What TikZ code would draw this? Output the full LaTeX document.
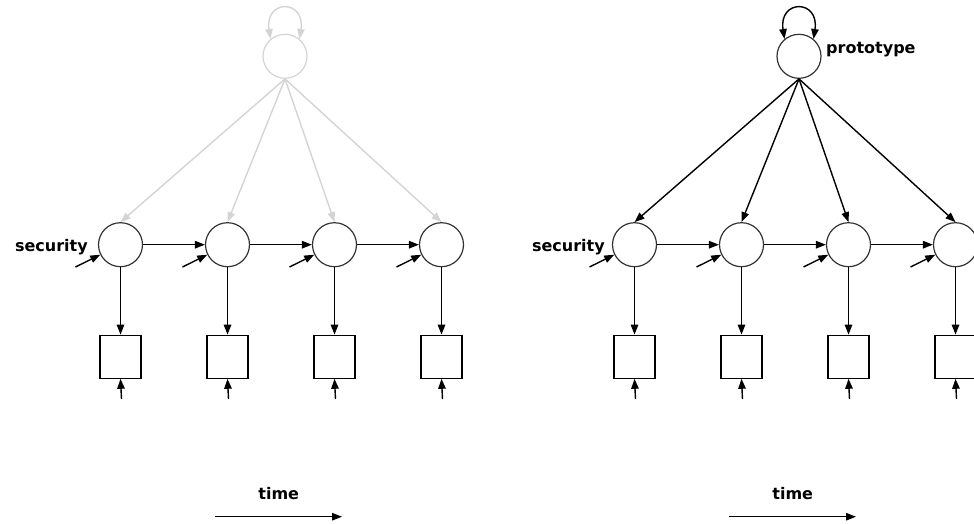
\documentclass[tikz,border=0pt]{standalone}
\usepackage{fontspec}
\setmainfont{DejaVu Sans}
\usetikzlibrary{arrows.meta}
\definecolor{lg}{RGB}{212,212,212}
\definecolor{ln}{RGB}{50,50,50}
\begin{document}
\begin{tikzpicture}[x=1pt,y=-1pt,
  lat/.style={circle,draw=ln,line width=1.2pt,minimum size=44pt,inner sep=0pt},
  obs/.style={rectangle,draw=black,line width=1.2pt,minimum width=41pt,minimum height=43pt,inner sep=0pt},
  arr/.style={draw=black,line width=1.4pt,-{Triangle[length=10pt,width=7.5pt]}},
  garr/.style={draw=lg,line width=1.4pt,-{Triangle[length=10pt,width=7.5pt]}},
  lbl/.style={font=\bfseries\fontsize{16}{19}\selectfont,inner sep=0pt}]
\useasboundingbox (0,0) rectangle (974,523);

% lower structure of both panels
\foreach \p/\ox in {L/0,R/514} {
  \foreach \i in {1,...,4} {
    \node[lat] (\p c\i) at ({\ox+120.5+107*(\i-1)},244.7) {};
    \node[obs] (\p b\i) at ({\ox+120.5+107*(\i-1)},356.7) {};
    \coordinate (\p e\i) at ({\ox+120.5+107*(\i-1)-45},267);
    \coordinate (\p u\i) at ({\ox+121.5+107*(\i-1)},399);
    \draw[arr] (\p c\i) -- (\p b\i);
    \draw[arr] (\p e\i) -- (\p c\i);
    \draw[arr] (\p u\i) -- (\p b\i.south);
  }
  \foreach \i/\j in {1/2,2/3,3/4} {
    \draw[arr] (\p c\i) -- (\p c\j);
  }
  \coordinate (\p t0) at ({\ox+215},516.7);
  \coordinate (\p t1) at ({\ox+342},516.7);
  \draw[arr] (\p t0) -- (\p t1);
  \node[lbl,anchor=base] (\p time) at ({\ox+278.7},499.5) {time};
}

% left panel: grey prototype
\node[lat,draw=lg] (Ltop) at (285,56.3) {};
\draw[draw=lg,line width=1.4pt,{Triangle[length=10pt,width=7.5pt]}-{Triangle[length=10pt,width=7.5pt]}]
  (Ltop.130) .. controls +(-6,-40) and +(6,-40) .. (Ltop.50);
\foreach \i in {1,...,4} {
  \draw[garr] (Ltop.south) -- (Lc\i.north);
}
\node[lbl,anchor=base east] (Lsec) at (88,251) {security};

% right panel: black prototype
\node[lat] (Rtop) at (799,56.3) {};
\draw[draw=black,line width=1.4pt,{Triangle[length=10pt,width=7.5pt]}-{Triangle[length=10pt,width=7.5pt]}]
  (Rtop.130) .. controls +(-6,-40) and +(6,-40) .. (Rtop.50);
\foreach \i in {1,...,4} {
  \draw[arr] (Rtop.south) -- (Rc\i.north);
}
\node[lbl,anchor=base east] (Rsec) at (605,251) {security};
\node[lbl,anchor=base west] (Rproto) at (826,53) {prototype};
\end{tikzpicture}
\end{document}
